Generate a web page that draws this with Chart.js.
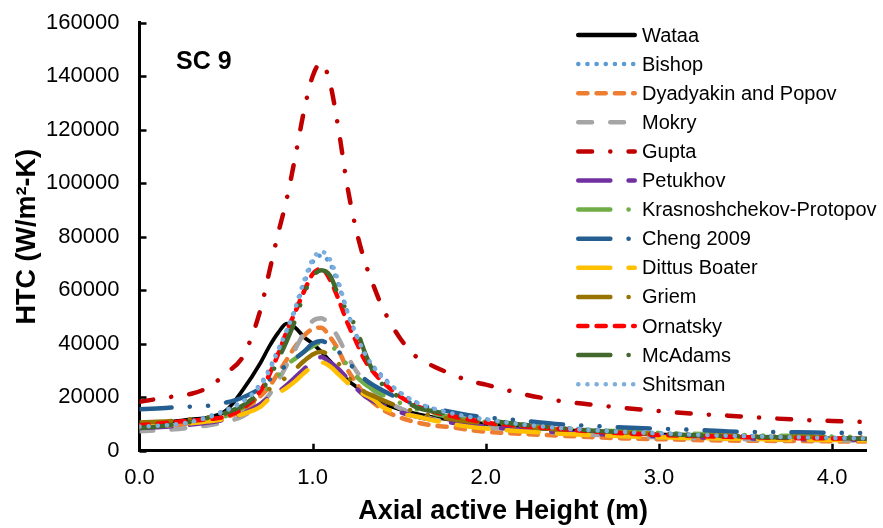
<!DOCTYPE html>
<html>
<head>
<meta charset="utf-8">
<script src="https://cdn.jsdelivr.net/npm/chart.js@4.4.0/dist/chart.umd.min.js"></script>
<style>
  html, body { margin: 0; padding: 0; background: #fff; }
  #wrap { width: 883px; height: 528px; }
</style>
</head>
<body>
<div id="wrap"><canvas id="htcChart" width="883" height="528"></canvas></div>
<script>
// axial positions (m)
const heights = [0, 0.1, 0.2, 0.3, 0.4, 0.5, 0.6, 0.7, 0.75, 0.8, 0.85, 0.9, 0.95, 1.0, 1.05, 1.1, 1.15, 1.2, 1.25, 1.3, 1.35, 1.4, 1.5, 1.6, 1.7, 1.8, 1.9, 2.0, 2.2, 2.4, 2.6, 2.8, 3.0, 3.2, 3.4, 3.6, 3.8, 4.0, 4.2];

// HTC per correlation (W/m2-K)
const wataa = [10000, 10500, 11000, 11700, 12500, 15000, 23000, 33000, 39000, 44000, 47500, 46000, 42500, 40000, 37000, 33500, 30000, 26500, 24000, 21800, 19500, 17800, 15500, 13800, 12500, 11500, 10700, 10000, 8800, 7900, 7200, 6600, 6100, 5700, 5300, 5000, 4800, 4600, 4400];
const bishop = [9500, 9800, 10300, 11200, 12800, 15200, 18800, 25000, 30500, 37500, 44500, 53000, 62500, 70500, 73000, 70000, 62000, 52000, 43500, 36000, 31500, 28000, 21800, 18000, 15600, 14000, 12800, 11800, 10000, 8800, 7900, 7200, 6600, 6100, 5700, 5400, 5100, 4900, 4700];
const dyadyakin = [8700, 9000, 9500, 10200, 11200, 12600, 15000, 20500, 24000, 29000, 34000, 39000, 43000, 45500, 46000, 42500, 37500, 30500, 25500, 21000, 18000, 15500, 12500, 10600, 9400, 8800, 7800, 7100, 6300, 5700, 5100, 4600, 4300, 4000, 3800, 3700, 3600, 3500, 3400];
const mokry = [7300, 7600, 8000, 8700, 9500, 10800, 13000, 17500, 21000, 26000, 32000, 38000, 44000, 48500, 49500, 47000, 42000, 35500, 30000, 26000, 22500, 19500, 16000, 13500, 11800, 10500, 9600, 8800, 7600, 6700, 6000, 5500, 5000, 4700, 4400, 4200, 4000, 3900, 3800];
const gupta = [18300, 19300, 20300, 21300, 23800, 29000, 35500, 53000, 67000, 81000, 94000, 110000, 127000, 140000, 145000, 137500, 120000, 99000, 83000, 71000, 62000, 54000, 42500, 35000, 31500, 28700, 26200, 24700, 21400, 18900, 17300, 16000, 14800, 13800, 13100, 12300, 11600, 11100, 10700];
const petukhov = [8500, 8800, 9200, 9800, 10500, 11800, 14000, 17500, 20000, 22000, 24500, 27500, 30500, 33500, 35000, 33000, 30500, 27000, 23500, 20500, 18500, 17000, 14500, 12800, 11500, 10500, 9700, 9000, 7900, 7000, 6300, 5800, 5400, 5000, 4700, 4500, 4300, 4200, 4100];
const krasnoshchekov = [9000, 9300, 9800, 10500, 11500, 13000, 16000, 21000, 24000, 28000, 32000, 34500, 37000, 39000, 40500, 39500, 36500, 32000, 28000, 25000, 22800, 21000, 18000, 15500, 13800, 12600, 11600, 10800, 9500, 8600, 7800, 7200, 6700, 6300, 6000, 5700, 5500, 5300, 5200];
const cheng = [15500, 15800, 16200, 16500, 16800, 18000, 20000, 23500, 26500, 29500, 32000, 34500, 37000, 40000, 41000, 39500, 37000, 33500, 30000, 26800, 24500, 22700, 19500, 17300, 15800, 14500, 13300, 12500, 11300, 10000, 9300, 8700, 8200, 7800, 7200, 7000, 6900, 6700, 6600];
const dittus = [9000, 9300, 9700, 10300, 11000, 12000, 13800, 16500, 19500, 21500, 23500, 26000, 29000, 31500, 33000, 31500, 28500, 25500, 23000, 21000, 19300, 16500, 14000, 12800, 11300, 10000, 9000, 8300, 7300, 6500, 5900, 5400, 5000, 4700, 4500, 4300, 4100, 4000, 3900];
const griem = [10500, 10800, 11200, 11800, 12500, 13800, 16500, 20500, 23000, 25500, 27500, 30500, 33500, 36000, 37000, 35500, 32500, 28000, 24500, 22000, 20500, 19000, 16500, 14500, 13000, 11800, 10900, 10200, 9000, 8000, 7300, 6800, 6300, 5900, 5600, 5400, 5200, 5000, 4900];
const ornatsky = [9500, 10000, 10700, 11200, 11800, 12800, 16000, 22500, 28500, 36000, 44500, 52000, 59500, 66000, 68000, 64000, 56500, 48000, 41000, 34000, 29500, 26000, 20500, 16700, 14500, 13000, 11700, 10500, 9300, 8300, 7300, 6500, 5900, 5500, 5200, 4900, 4700, 4600, 4400];
const mcadams = [8500, 9000, 9800, 10800, 12300, 14200, 17000, 22500, 27000, 34000, 41000, 49000, 58500, 65000, 67500, 65500, 58000, 52000, 46000, 37000, 29500, 25000, 20000, 16200, 14700, 13500, 12400, 11500, 9800, 8600, 7600, 6900, 6300, 5800, 5400, 5100, 4900, 4700, 4500];
const shitsman = [9000, 9300, 9800, 10800, 12500, 15000, 18500, 24500, 30000, 37500, 45000, 53500, 63500, 71500, 74500, 71500, 63000, 52000, 43500, 36500, 31500, 27500, 22000, 18000, 15700, 14000, 12700, 11700, 9900, 8600, 7700, 7000, 6500, 6000, 5600, 5300, 5000, 4800, 4600];

const seriesNames = ["Wataa", "Bishop", "Dyadyakin and Popov", "Mokry", "Gupta", "Petukhov", "Krasnoshchekov-Protopov", "Cheng 2009", "Dittus Boater", "Griem", "Ornatsky", "McAdams", "Shitsman"];
const seriesValues = [wataa, bishop, dyadyakin, mokry, gupta, petukhov, krasnoshchekov, cheng, dittus, griem, ornatsky, mcadams, shitsman];

const xTicks = [0, 1, 2, 3, 4];

// line looks: colour, width, dash (round caps, so dash lengths are trimmed by the cap)
const sysDot = [0.1, 9.05];
const sysDash = [9.2, 9.1];
const dash = [13.8, 18.2];
const dashDot = [13.8, 18.2, 0.1, 18.2];
const lgDash = [32.1, 18.2];
const lgDashDotDot = [32.1, 18.2, 0.1, 18.2, 0.1, 18.2];

const styles = [
    { color: "#000000", width: 3.75, dash: [] },
    { color: "#5B9BD5", width: 4.5, dash: sysDot },
    { color: "#ED7D31", width: 4.5, dash: sysDash },
    { color: "#A5A5A5", width: 4.5, dash: dash },
    { color: "#C00000", width: 4.5, dash: dashDot },
    { color: "#7030A0", width: 4.5, dash: lgDash },
    { color: "#70AD47", width: 4.5, dash: lgDashDotDot },
    { color: "#255E91", width: 4.5, dash: lgDashDotDot },
    { color: "#FFC000", width: 4.5, dash: lgDash },
    { color: "#997300", width: 4.5, dash: lgDashDotDot },
    { color: "#FF0000", width: 4.5, dash: sysDash },
    { color: "#43682B", width: 4.5, dash: lgDashDotDot },
    { color: "#7CAFDE", width: 4.5, dash: sysDot }
];

const FONT = "'Liberation Sans', Arial, sans-serif";

const datasets = seriesValues.map((vals, i) => ({
    label: seriesNames[i],
    data: vals.map((v, j) => ({ x: heights[j], y: v })),
    borderColor: styles[i].color,
    borderWidth: styles[i].width,
    borderDash: styles[i].dash,
    borderCapStyle: "round",
    borderJoinStyle: "round",
    pointRadius: 0,
    cubicInterpolationMode: "monotone",
    fill: false,
    order: -i   // later series on top
}));

// small tick marks pointing into the plot
const innerTicks = {
    id: "innerTicks",
    afterDraw(chart) {
        const { ctx, chartArea, scales } = chart;
        ctx.save();
        ctx.strokeStyle = "#000";
        ctx.lineWidth = 2.5;
        ctx.beginPath();
        scales.y.ticks.forEach(t => {
            const y = Math.round(scales.y.getPixelForValue(t.value)) + 0.5;
            ctx.moveTo(chartArea.left, y);
            ctx.lineTo(chartArea.left + 7, y);
        });
        scales.x.ticks.forEach(t => {
            if (t.value === 0) return;
            const x = Math.round(scales.x.getPixelForValue(t.value)) + 0.5;
            ctx.moveTo(x, chartArea.bottom);
            ctx.lineTo(x, chartArea.bottom - 7);
        });
        ctx.stroke();
        ctx.restore();
    }
};

// case label and the legend box inside the plot
const annotations = {
    id: "annotations",
    afterDraw(chart) {
        const ctx = chart.ctx;
        ctx.save();
        ctx.fillStyle = "#000";
        ctx.font = "bold 25px " + FONT;
        ctx.textBaseline = "alphabetic";
        ctx.fillText("SC 9", 176, 69);

        ctx.font = "20px " + FONT;
        ctx.textBaseline = "middle";
        chart.data.datasets.forEach((ds, i) => {
            const y = 35 + i * 29.1;
            ctx.beginPath();
            ctx.strokeStyle = ds.borderColor;
            ctx.lineWidth = 4.5;
            ctx.lineCap = "round";
            ctx.setLineDash(ds.borderDash);
            ctx.moveTo(578.25, y);
            ctx.lineTo(634.75, y);
            ctx.stroke();
            ctx.setLineDash([]);
            ctx.fillStyle = "#000";
            ctx.fillText(ds.label, 642, y + 1);
        });
        ctx.restore();
    }
};

// keep the plot box fixed, no extra room for overhanging tick labels
function noOverhang(scale) {
    scale.paddingTop = 0;
    scale.paddingBottom = 0;
    scale.paddingLeft = 0;
    scale.paddingRight = 0;
}

var ctx = document.getElementById("htcChart");
var htcChart = new Chart(ctx, {
    type: "line",
    data: { datasets: datasets },
    plugins: [innerTicks, annotations],
    options: {
        responsive: false,
        animation: false,
        layout: { padding: { top: 22.7, right: 16.3, left: 0, bottom: 0 } },
        plugins: {
            legend: { display: false },
            tooltip: { enabled: false }
        },
        scales: {
            x: {
                type: "linear",
                min: 0,
                max: 4.2,
                afterBuildTicks: scale => { scale.ticks = xTicks.map(v => ({ value: v })); },
                afterFit: scale => { scale.height = 77.3; noOverhang(scale); },
                grid: { drawOnChartArea: false, drawTicks: false },
                border: { display: true, color: "#000", width: 3 },
                ticks: {
                    padding: 14,
                    color: "#000",
                    font: { family: FONT, size: 22 },
                    maxRotation: 0,
                    callback: v => Number(v).toFixed(1)
                },
                title: {
                    display: true,
                    text: "Axial active Height (m)",
                    color: "#000",
                    font: { family: FONT, size: 27, weight: "bold" },
                    padding: { top: 0, bottom: 0 }
                }
            },
            y: {
                min: 0,
                max: 160000,
                afterFit: scale => { scale.width = 139.5; noOverhang(scale); },
                grid: { drawOnChartArea: false, drawTicks: false },
                border: { display: true, color: "#000", width: 3 },
                ticks: {
                    stepSize: 20000,
                    padding: 20,
                    color: "#000",
                    font: { family: FONT, size: 22 },
                    callback: v => String(v)
                },
                title: {
                    display: true,
                    text: "HTC (W/m²-K)",
                    color: "#000",
                    font: { family: FONT, size: 27, weight: "bold" },
                    padding: { top: 11, bottom: 0 }
                }
            }
        }
    }
});
</script>
</body>
</html>
